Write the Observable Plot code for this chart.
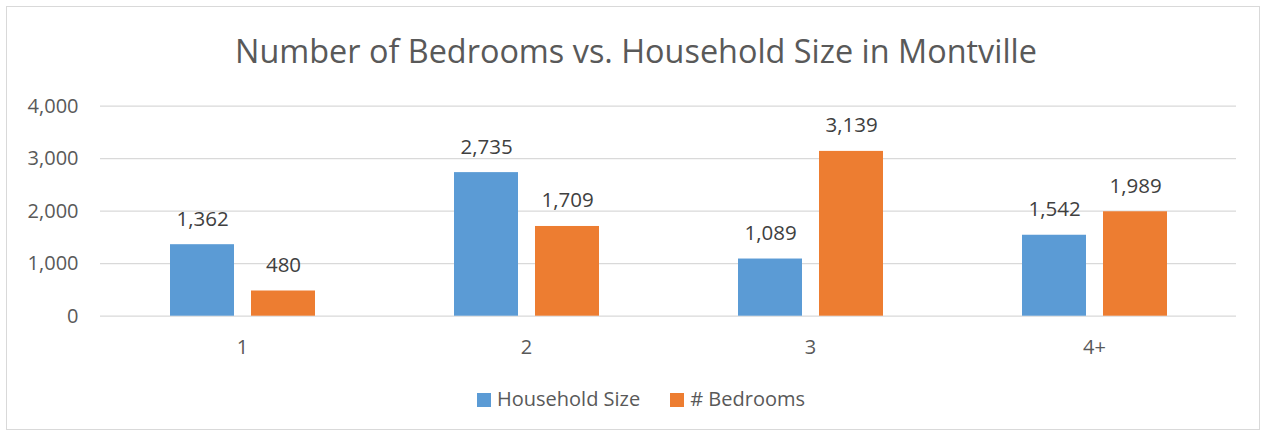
<!DOCTYPE html>
<html>
<head>
<meta charset="utf-8">
<script src="https://cdn.jsdelivr.net/npm/d3@7"></script>
<script src="https://cdn.jsdelivr.net/npm/@observablehq/plot@0.6"></script>
<style>
  html, body { margin: 0; padding: 0; background: #fff; }
  body { width: 1266px; height: 436px; position: relative; overflow: hidden; font-family: "Open Sans", sans-serif; }
  #frame { position: absolute; left: 6px; top: 6px; width: 1254px; height: 424px; box-sizing: border-box; border: 1px solid #d9d9d9; }
  #title { position: absolute; left: 0; top: 28px; width: 1266px; text-align: center; font-size: 32.4px; color: #595959; line-height: normal; padding-left: 6px; box-sizing: border-box; }
  #chart { position: absolute; left: 0; top: 90px; }
  #legend { position: absolute; left: 0; top: 385px; width: 1266px; display: flex; justify-content: center; gap: 30px; font-size: 20px; color: #595959; padding-left: 16px; box-sizing: border-box; }
  .item { display: flex; align-items: center; gap: 6px; }
  .sw { width: 14px; height: 14px; display: inline-block; margin-top: 2px; }
</style>
</head>
<body>
<div id="frame"></div>
<div id="title">Number of Bedrooms vs. Household Size in Montville</div>
<div id="chart"></div>
<div id="legend"></div>
<script>
const groups = ["1", "2", "3", "4+"];
const seriesNames = ["Household Size", "# Bedrooms"];
const householdSize = [1362, 2735, 1089, 1542];
const bedrooms = [480, 1709, 3139, 1989];
const yTicks = [0, 1000, 2000, 3000, 4000];
const colors = ["#5B9BD5", "#ED7D31"];

const data = [];
groups.forEach((g, i) => {
  data.push({group: g, series: seriesNames[0], value: householdSize[i]});
  data.push({group: g, series: seriesNames[1], value: bedrooms[i]});
});

const fmt = d3.format(",");

const chart = Plot.plot({
  width: 1266,
  height: 280,
  marginLeft: 100,
  marginRight: 30,
  marginTop: 15.7,
  marginBottom: 54.3,
  style: {fontFamily: "Open Sans", fontSize: "20px", color: "#595959", background: "transparent", overflow: "visible"},
  fx: {domain: groups, paddingInner: 0, paddingOuter: 0, label: null},
  x: {domain: seriesNames, paddingInner: 0.21, paddingOuter: 0.858, axis: null},
  y: {domain: [0, 4000], label: null},
  color: {domain: seriesNames, range: colors},
  marks: [
    Plot.gridY(yTicks, {stroke: "#d9d9d9", strokeOpacity: 1, strokeWidth: 1.2}),
    Plot.axisY({ticks: yTicks, tickSize: 0, tickPadding: 22, tickFormat: fmt, label: null, fill: "#595959"}),
    Plot.axisFx({anchor: "bottom", tickSize: 0, tickPadding: 24, label: null, fill: "#595959"}),
    Plot.barY(data, {fx: "group", x: "series", y: "value", fill: "series"}),
    Plot.text(data, {fx: "group", x: "series", y: "value", text: d => fmt(d.value), lineAnchor: "bottom", dy: -19, fill: "#404040", fontSize: 20.5})
  ]
});
document.getElementById("chart").appendChild(chart);

const legend = document.getElementById("legend");
seriesNames.forEach((name, i) => {
  const item = document.createElement("div");
  item.className = "item";
  const sw = document.createElement("span");
  sw.className = "sw";
  sw.style.background = colors[i];
  const label = document.createElement("span");
  label.textContent = name;
  item.appendChild(sw);
  item.appendChild(label);
  legend.appendChild(item);
});
</script>
</body>
</html>
